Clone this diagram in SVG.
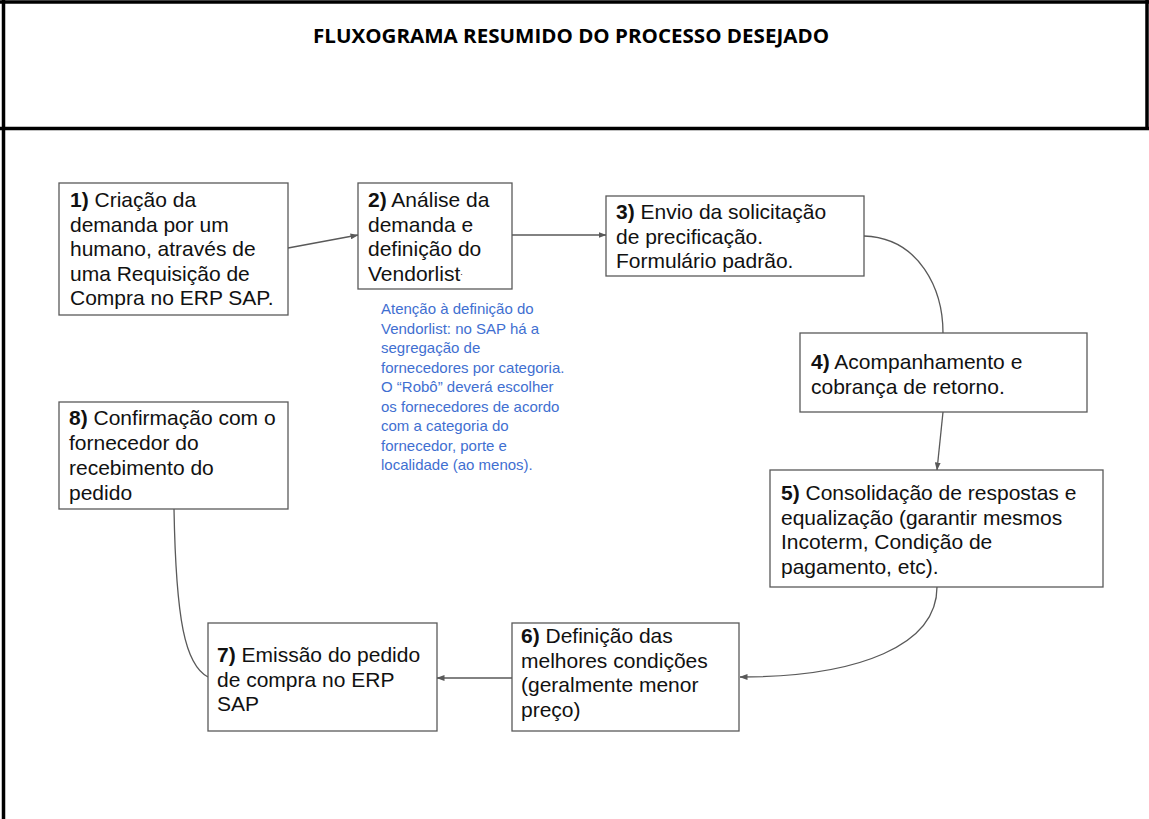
<svg xmlns="http://www.w3.org/2000/svg" width="1149" height="819" viewBox="0 0 1149 819">
<defs>
<style>
.frame{stroke:#000;stroke-width:3.5;fill:none}
.box{fill:#fff;stroke:#595959;stroke-width:1.3}
.t{font-family:"Liberation Sans",Arial,sans-serif;font-size:21px;fill:#111}
.b{font-weight:bold}
.note{font-family:"Liberation Sans",Arial,sans-serif;font-size:15px;fill:#3f6fd1}
.c{fill:none;stroke:#595959;stroke-width:1.3}
.title{font-family:"Open Sans","Liberation Sans",sans-serif;font-weight:bold;font-size:19px;fill:#000}
</style>
<marker id="arr" markerWidth="8" markerHeight="6" refX="7.5" refY="3" orient="auto" markerUnits="userSpaceOnUse">
<path d="M0,0 L8,3 L0,6 z" fill="#595959"/>
</marker>
</defs>
<rect width="1149" height="819" fill="#fff"/>
<g id="frame">
<line class="frame" x1="3.5" y1="0" x2="3.5" y2="819"/>
<line class="frame" x1="0" y1="2" x2="1149" y2="2"/>
<line class="frame" x1="1147" y1="0" x2="1147" y2="130"/>
<line class="frame" x1="0" y1="128.5" x2="1149" y2="128.5"/>
<text class="title" x="313" y="43" textLength="516" lengthAdjust="spacingAndGlyphs">FLUXOGRAMA RESUMIDO DO PROCESSO DESEJADO</text>
</g>
<g id="connectors">
<path class="c" d="M288,248 L358,235" marker-end="url(#arr)"/>
<path class="c" d="M512,235 L606,235" marker-end="url(#arr)"/>
<path class="c" d="M864,236 C920,238 943,290 943,333"/>
<path class="c" d="M943,412 L937,470" marker-end="url(#arr)"/>
<path class="c" d="M937,587 C937,645 860,677 740,677" marker-end="url(#arr)"/>
<path class="c" d="M512,678 L437,678" marker-end="url(#arr)"/>
<path class="c" d="M208,677 C185,665 176,620 174,509"/>
</g>
<g id="node1">
<rect class="box" x="59" y="183" width="229" height="132"/>
<text class="t" x="70" y="207"><tspan class="b">1)</tspan> Criação da</text>
<text class="t" x="70" y="231.5">demanda por um</text>
<text class="t" x="70" y="256">humano, através de</text>
<text class="t" x="70" y="280.5">uma Requisição de</text>
<text class="t" x="70" y="305">Compra no ERP SAP.</text>
</g>
<g id="node2">
<rect class="box" x="358" y="183" width="154" height="106"/>
<text class="t" x="368" y="207"><tspan class="b">2)</tspan> Análise da</text>
<text class="t" x="368" y="231.5">demanda e</text>
<text class="t" x="368" y="256">definição do</text>
<text class="t" x="368" y="280.5">Vendorlist<tspan font-size="9" dy="-6">.</tspan></text>
</g>
<g id="note">
<text class="note" x="381" y="314">Atenção à definição do</text>
<text class="note" x="381" y="333.5">Vendorlist: no SAP há a</text>
<text class="note" x="381" y="353">segregação de</text>
<text class="note" x="381" y="372.5">fornecedores por categoria.</text>
<text class="note" x="381" y="392">O “Robô” deverá escolher</text>
<text class="note" x="381" y="411.5">os fornecedores de acordo</text>
<text class="note" x="381" y="431">com a categoria do</text>
<text class="note" x="381" y="450.5">fornecedor, porte e</text>
<text class="note" x="381" y="470">localidade (ao menos).</text>
</g>
<g id="node3">
<rect class="box" x="606" y="196" width="258" height="80"/>
<text class="t" x="616" y="219"><tspan class="b">3)</tspan> Envio da solicitação</text>
<text class="t" x="616" y="243.5">de precificação.</text>
<text class="t" x="616" y="268">Formulário padrão.</text>
</g>
<g id="node4">
<rect class="box" x="800" y="333" width="287" height="79"/>
<text class="t" x="811" y="369"><tspan class="b">4)</tspan> Acompanhamento e</text>
<text class="t" x="811" y="393.5">cobrança de retorno.</text>
</g>
<g id="node5">
<rect class="box" x="770" y="470" width="333" height="117"/>
<text class="t" x="781" y="500"><tspan class="b">5)</tspan> Consolidação de respostas e</text>
<text class="t" x="781" y="524.5">equalização (garantir mesmos</text>
<text class="t" x="781" y="549">Incoterm, Condição de</text>
<text class="t" x="781" y="573.5">pagamento, etc).</text>
</g>
<g id="node6">
<rect class="box" x="512" y="623" width="227" height="108"/>
<text class="t" x="521" y="643"><tspan class="b">6)</tspan> Definição das</text>
<text class="t" x="521" y="667.5">melhores condições</text>
<text class="t" x="521" y="692">(geralmente menor</text>
<text class="t" x="521" y="716.5">preço)</text>
</g>
<g id="node7">
<rect class="box" x="208" y="623" width="229" height="108"/>
<text class="t" x="217" y="662"><tspan class="b">7)</tspan> Emissão do pedido</text>
<text class="t" x="217" y="686.5">de compra no ERP</text>
<text class="t" x="217" y="711">SAP</text>
</g>
<g id="node8">
<rect class="box" x="59" y="402" width="229" height="107"/>
<text class="t" x="69" y="425"><tspan class="b">8)</tspan> Confirmação com o</text>
<text class="t" x="69" y="450">fornecedor do</text>
<text class="t" x="69" y="475">recebimento do</text>
<text class="t" x="69" y="500">pedido</text>
</g>
</svg>
